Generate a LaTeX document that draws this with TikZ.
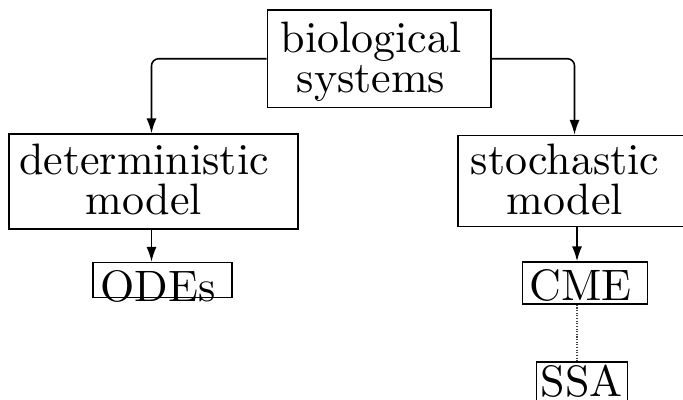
\documentclass[tikz,border=0pt]{standalone}
\usetikzlibrary{arrows.meta}
\newdimen\upx
\upx=0.22727pt
\begin{document}
\begin{tikzpicture}[x=\upx, y=-\upx,
  box/.style={draw, line width=0.35pt, inner sep=0pt},
  lbl/.style={inner sep=0pt, align=center, font=\fontsize{10}{9.09}\selectfont},
  arr/.style={line width=0.35pt, -{Latex[length=3.4pt,width=2.3pt]}},
  dots/.style={line width=0.3pt, black!75, dash pattern=on 0.25pt off 0.35pt}]
\useasboundingbox (0,0) rectangle (683,399);
\clip (0,0) rectangle (683,399);
% boxes
\node[box, minimum width={223.5*\upx}, minimum height={97.5*\upx}] (top) at (379.25,58.75) {};
\node[box, minimum width={289*\upx}, minimum height={95*\upx}] (det) at (153.5,181.5) {};
\node[box, minimum width={230*\upx}, minimum height={91*\upx}] (sto) at (573,181) {};
\node[box, minimum width={139*\upx}, minimum height={35*\upx}] (odes) at (162.5,280) {};
\node[box, minimum width={125*\upx}, minimum height={42*\upx}] (cme) at (585.2,283) {};
\node[box, minimum width={90.6*\upx}, minimum height={48*\upx}] (ssa) at (582,386) {};
% texts
\node[lbl] (toptxt) at (371,61.5) {biological\\systems};
\node[lbl] (dettxt) at (144,179.75) {deterministic\\model};
\node[lbl] (stotxt) at (565,179.75) {stochastic\\model};
\node[lbl] (odestxt) at (158,286) {ODEs};
\node[lbl] (cmetxt) at (580.3,285.5) {CME};
\node[lbl] (ssatxt) at (581.5,381) {SSA};
% guide coordinates for connector columns
\coordinate (lx) at (151.5,0);
\coordinate (ux) at (574.5,0);
\coordinate (rx) at (577,0);
% connectors
\draw[arr, rounded corners=1.6pt] (top.west) -| (lx |- det.north);
\draw[arr, rounded corners=1.6pt] (top.east) -| (ux |- sto.north);
\draw[arr] (lx |- det.south) -- (lx |- odes.north);
\draw[arr] (rx |- sto.south) -- (rx |- cme.north);
\draw[dots] (rx |- cme.south) -- (rx |- ssa.north);
\end{tikzpicture}
\end{document}
